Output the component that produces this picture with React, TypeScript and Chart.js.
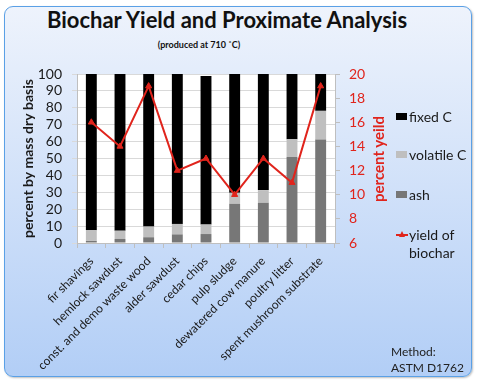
import React, { useEffect, useRef } from "react";
import { Chart, registerables } from "chart.js";

Chart.register(...registerables);

const categories = [
  "fir shavings",
  "hemlock sawdust",
  "const. and demo waste wood",
  "alder sawdust",
  "cedar chips",
  "pulp sludge",
  "dewatered cow manure",
  "poultry litter",
  "spent mushroom substrate",
];
const ash = [1.2, 2.4, 3.4, 5.1, 5.3, 23.2, 23.8, 50.9, 61.2];
const volatileC = [6.3, 4.9, 6.3, 6.2, 5.6, 6.5, 7.5, 10.5, 17.0];
const fixedC = [92.5, 92.7, 90.3, 88.7, 87.9, 70.3, 68.7, 38.6, 21.8];
const yieldPct = [16, 14, 19, 12, 13, 10, 13, 11, 19];

const FONT = "Lato, 'Open Sans', sans-serif";
const RED = "#e0241c";
const DARK = "#1a1a1a";

export default function App() {
  const ref = useRef<HTMLCanvasElement>(null);

  useEffect(() => {
    const plotBg = {
      id: "plotBg",
      beforeDraw(chart: any) {
        const { ctx, chartArea: a } = chart;
        ctx.save();
        ctx.fillStyle = "#ffffff";
        ctx.fillRect(a.left, a.top, a.right - a.left, a.bottom - a.top);
        ctx.restore();
      },
    };
    const chart = new Chart(ref.current!, {
      type: "bar",
      data: {
        labels: categories,
        datasets: [
          {
            type: "line",
            label: "yield of biochar",
            data: yieldPct,
            yAxisID: "y1",
            borderColor: RED,
            backgroundColor: RED,
            borderWidth: 2,
            pointStyle: "triangle",
            pointRadius: 3.5,
            pointBorderWidth: 1,
            tension: 0,
            order: 0,
          } as any,
          { label: "ash", data: ash, backgroundColor: "#777777", yAxisID: "y", order: 1 },
          { label: "volatile C", data: volatileC, backgroundColor: "#bfbfbf", yAxisID: "y", order: 1 },
          { label: "fixed C", data: fixedC, backgroundColor: "#000000", yAxisID: "y", order: 1 },
        ],
      },
      options: {
        animation: false,
        responsive: false,
        devicePixelRatio: 1,
        layout: { padding: { top: 74, left: 0, right: 91, bottom: 0 } },
        plugins: { legend: { display: false }, tooltip: { enabled: false }, title: { display: false } },
        datasets: { bar: { categoryPercentage: 1, barPercentage: 0.38 } },
        scales: {
          x: {
            stacked: true,
            offset: true,
            grid: { offset: true, drawOnChartArea: false, tickLength: 5, color: "#bfbfbf" },
            border: { color: "#bfbfbf" },
            ticks: {
              minRotation: 45,
              maxRotation: 45,
              autoSkip: false,
              padding: 6,
              color: DARK,
              font: { family: FONT, size: 12 },
            },
            afterFit: (s: any) => {
              s.height = 142;
            },
          },
          y: {
            position: "left",
            stacked: true,
            min: 0,
            max: 100,
            ticks: { stepSize: 10, autoSkip: false, padding: 10, color: DARK, font: { family: FONT, size: 14 } },
            grid: { color: "#d9d9d9", tickLength: 5 },
            border: { color: "#bfbfbf" },
            title: {
              display: true,
              text: "percent by mass dry basis",
              color: DARK,
              font: { family: FONT, size: 14, weight: "bold" },
              padding: { top: 20, bottom: 0 },
            },
            afterFit: (s: any) => {
              s.width = 77;
            },
          },
          y1: {
            position: "right",
            min: 6,
            max: 20,
            ticks: { stepSize: 2, autoSkip: false, padding: 9, color: RED, font: { family: FONT, size: 14 } },
            grid: { drawOnChartArea: false, tickLength: 5, color: "#bfbfbf" },
            border: { color: "#bfbfbf" },
            afterFit: (s: any) => {
              s.width = 52;
            },
          },
        },
      } as any,
      plugins: [plotBg],
    });
    return () => chart.destroy();
  }, []);

  const legendText: React.CSSProperties = {
    position: "absolute",
    left: 409,
    fontFamily: FONT,
    fontSize: 14,
    lineHeight: "18px",
    color: DARK,
    whiteSpace: "nowrap",
  };
  const swatch = (top: number, color: string): React.CSSProperties => ({
    position: "absolute",
    left: 396,
    top,
    width: 11,
    height: 7,
    background: color,
  });

  return (
    <div style={{ position: "absolute", left: 0, top: 0, width: 478, height: 385, background: "#fff", overflow: "hidden" }}>
      <div
        style={{
          position: "absolute",
          left: 4,
          top: 6,
          width: 468,
          height: 371,
          boxSizing: "border-box",
          border: "1px solid #5aa0e6",
          borderRadius: 9,
          background: "linear-gradient(#eef3fc, #b2cef6)",
          boxShadow: "1px 1px 2px rgba(0,0,0,0.25)",
        }}
      />
      <div
        style={{
          position: "absolute",
          left: 0,
          top: 7,
          width: 454,
          textAlign: "center",
          fontFamily: FONT,
          fontWeight: "bold",
          fontSize: 22,
          lineHeight: "26px",
          color: "#111",
          whiteSpace: "nowrap",
        }}
      >
        Biochar Yield and Proximate Analysis
      </div>
      <div
        style={{
          position: "absolute",
          left: 0,
          top: 39,
          width: 398,
          textAlign: "center",
          fontFamily: FONT,
          fontWeight: "bold",
          fontSize: 9,
          lineHeight: "11px",
          color: "#111",
        }}
      >
        (produced at 710 ˚C)
      </div>
      <canvas ref={ref} width={478} height={385} style={{ position: "absolute", left: 0, top: 0, width: 478, height: 385 }} />
      <div
        style={{
          position: "absolute",
          left: 378 - 75,
          top: 158.5 - 10,
          width: 150,
          height: 20,
          lineHeight: "20px",
          textAlign: "center",
          transform: "rotate(-90deg)",
          fontFamily: FONT,
          fontWeight: "bold",
          fontSize: 15,
          color: RED,
        }}
      >
        percent yeild
      </div>
      <div style={swatch(113, "#000000")} />
      <div style={{ ...legendText, top: 108 }}>fixed C</div>
      <div style={swatch(151, "#bfbfbf")} />
      <div style={{ ...legendText, top: 146 }}>volatile C</div>
      <div style={swatch(191, "#777777")} />
      <div style={{ ...legendText, top: 186 }}>ash</div>
      <div style={{ position: "absolute", left: 396, top: 234, width: 12, height: 2, background: RED }} />
      <div
        style={{
          position: "absolute",
          left: 399,
          top: 231,
          width: 0,
          height: 0,
          borderLeft: "3px solid transparent",
          borderRight: "3px solid transparent",
          borderBottom: "6px solid " + RED,
        }}
      />
      <div style={{ ...legendText, top: 226 }}>yield of</div>
      <div style={{ ...legendText, top: 244 }}>biochar</div>
      <div
        style={{
          position: "absolute",
          left: 391,
          top: 344,
          fontFamily: FONT,
          fontSize: 12,
          lineHeight: "16px",
          color: "#222",
          whiteSpace: "nowrap",
        }}
      >
        Method:
        <br />
        ASTM D1762
      </div>
    </div>
  );
}
